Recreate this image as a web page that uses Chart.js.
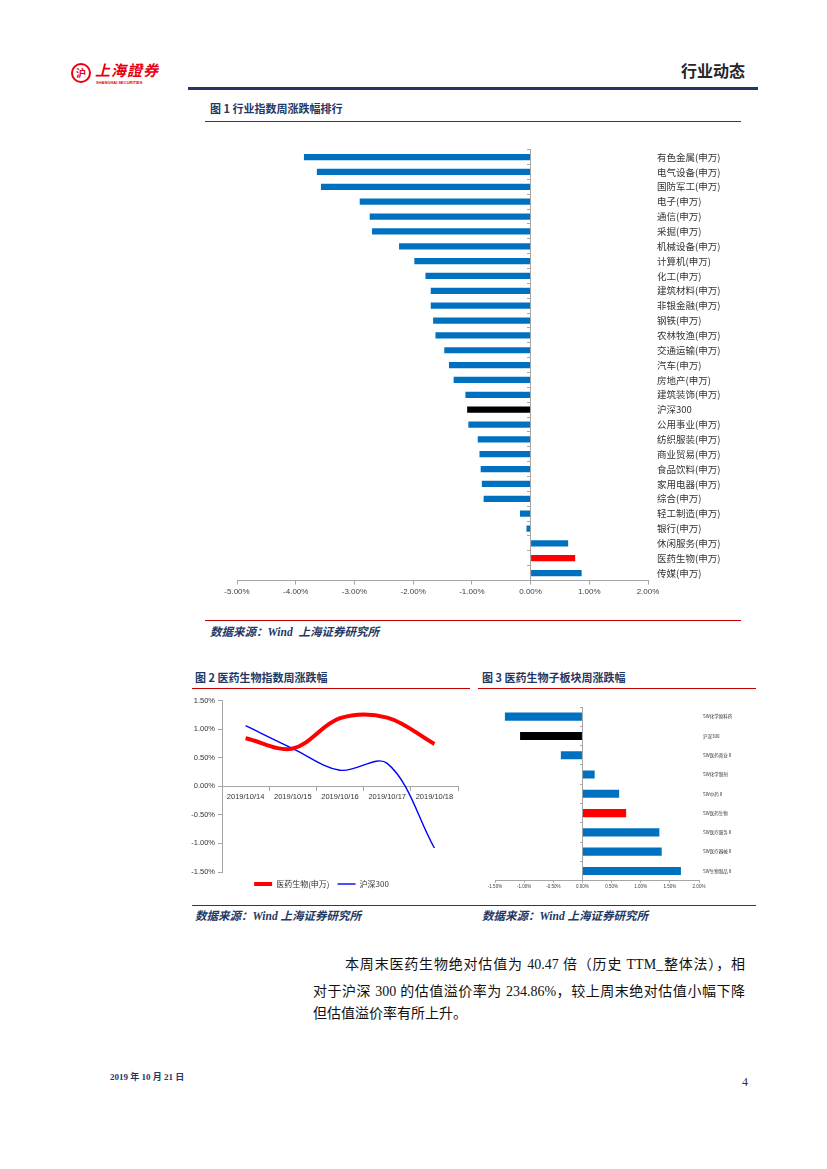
<!DOCTYPE html>
<html><head><meta charset="utf-8">
<script src="https://cdn.jsdelivr.net/npm/chart.js@4.4.1/dist/chart.umd.min.js"></script>
<style>
body{margin:0;width:827px;height:1169px;background:#fff;position:relative;overflow:hidden;font-family:"Liberation Serif","Noto Sans CJK SC",serif;}
.a{position:absolute;white-space:nowrap;}
.title{font-family:"Noto Sans CJK SC",sans-serif;font-weight:700;font-size:11px;color:#1F3864;line-height:14px;}
.src{font-family:"Liberation Serif","Noto Sans CJK SC",serif;font-weight:700;font-style:italic;font-size:11.5px;color:#1F3864;line-height:14px;}
.rl{position:absolute;height:1px;background:#c00000;}
.para{font-family:"Liberation Serif","Noto Sans CJK SC",serif;font-size:14px;color:#111;line-height:18px;}
canvas{position:absolute;}
</style></head>
<body>
<!-- header -->
<div class="a" style="left:71px;top:63px;width:20px;height:20px;border-radius:50%;border:2px solid #e60012;box-sizing:border-box;color:#e60012;font:bold 10px 'Noto Sans CJK SC';text-align:center;line-height:16px;">沪</div>
<div class="a" style="left:95px;top:61px;font:italic bold 15px 'Noto Sans CJK SC';color:#e60012;line-height:18px;letter-spacing:1px;">上海證券</div>
<div class="a" style="left:96px;top:80px;font:bold 4px 'Liberation Sans';color:#e60012;line-height:5px;">SHANGHAI SECURITIES</div>
<div class="a" style="left:681px;top:60px;font:bold 16px 'Noto Sans CJK SC';color:#262626;line-height:20px;">行业动态</div>
<div class="a" style="left:188px;top:87px;width:570px;height:3px;background:#1F3864;"></div>

<div class="a title" style="left:210px;top:101px;">图 1 行业指数周涨跌幅排行</div>
<div class="rl" style="left:205px;top:121px;width:536px;"></div>
<canvas id="c1" width="545" height="475" style="left:200px;top:135px;"></canvas>
<div class="rl" style="left:205px;top:620px;width:536px;"></div>
<div class="a src" style="left:210px;top:625px;">数据来源：Wind&nbsp; 上海证券研究所</div>

<div class="a title" style="left:195px;top:670px;">图 2 医药生物指数周涨跌幅</div>
<div class="a title" style="left:482px;top:670px;">图 3 医药生物子板块周涨跌幅</div>
<div class="rl" style="left:192px;top:688px;width:278px;"></div>
<div class="rl" style="left:478px;top:688px;width:278px;"></div>
<canvas id="c2" width="285" height="205" style="left:185px;top:693px;"></canvas>
<canvas id="c3" width="285" height="200" style="left:470px;top:700px;"></canvas>
<div class="rl" style="left:192px;top:905px;width:564px;"></div>
<div class="a src" style="left:195px;top:909px;">数据来源：Wind 上海证券研究所</div>
<div class="a src" style="left:482px;top:909px;">数据来源：Wind 上海证券研究所</div>

<div class="a para" style="left:345px;top:956px;width:400px;text-align:justify;text-align-last:justify;">本周末医药生物绝对估值为 40.47 倍（历史 TTM_整体法），相</div>
<div class="a para" style="left:313px;top:983px;width:432px;text-align:justify;text-align-last:justify;">对于沪深 300 的估值溢价率为 234.86%，较上周末绝对估值小幅下降</div>
<div class="a para" style="left:313px;top:1005px;">但估值溢价率有所上升。</div>

<div class="a" style="left:110px;top:1071px;font:bold 9px 'Liberation Serif','Noto Sans CJK SC';color:#1F3864;line-height:12px;">2019 年 10 月 21 日</div>
<div class="a" style="left:742px;top:1075px;font:12px 'Liberation Serif';color:#333;line-height:14px;">4</div>

<script>
// ---------- data ----------
const industries = ['有色金属(申万)','电气设备(申万)','国防军工(申万)','电子(申万)','通信(申万)','采掘(申万)','机械设备(申万)','计算机(申万)','化工(申万)','建筑材料(申万)','非银金融(申万)','钢铁(申万)','农林牧渔(申万)','交通运输(申万)','汽车(申万)','房地产(申万)','建筑装饰(申万)','沪深300','公用事业(申万)','纺织服装(申万)','商业贸易(申万)','食品饮料(申万)','家用电器(申万)','综合(申万)','轻工制造(申万)','银行(申万)','休闲服务(申万)','医药生物(申万)','传媒(申万)'];
const industryChange = [-3.86,-3.64,-3.57,-2.91,-2.74,-2.70,-2.24,-1.98,-1.79,-1.70,-1.70,-1.66,-1.62,-1.47,-1.39,-1.31,-1.11,-1.08,-1.06,-0.90,-0.87,-0.85,-0.83,-0.80,-0.18,-0.07,0.64,0.76,0.87];
const industryTicks = [-5,-4,-3,-2,-1,0,1,2];

const dates = ['2019/10/14','2019/10/15','2019/10/16','2019/10/17','2019/10/18'];
const pharmaIndex = [0.84,0.66,1.19,1.20,0.74];
const hs300Index = [1.06,0.66,0.28,0.40,-1.08];

const subSectors = ['SW化学原料药','沪深300','SW医药商业Ⅱ','SW化学制剂','SW中药Ⅱ','SW医药生物','SW医疗服务Ⅱ','SW医疗器械Ⅱ','SW生物制品Ⅱ'];
const subSectorChange = [-1.33,-1.07,-0.37,0.21,0.63,0.75,1.32,1.36,1.69];

// ---------- styles ----------
const BLUE = '#0070C0';
function barColor(name){
  if (name === '沪深300') return '#000000';
  if (name === '医药生物(申万)' || name === 'SW医药生物') return '#FF0000';
  return BLUE;
}
const pct = v => Number(v).toFixed(2) + '%';
const AX = '#a6a6a6';

// ---------- chart 1 ----------
new Chart(document.getElementById('c1'), {
  type: 'bar',
  data: { labels: industries, datasets: [{ data: industryChange, backgroundColor: industries.map(barColor), barPercentage: 0.42, categoryPercentage: 1 }] },
  options: {
    indexAxis: 'y', responsive: false, animation: false,
    layout: { padding: { left: 37, top: 2.5, right: 0, bottom: 0 } },
    plugins: { legend: { display: false }, tooltip: { enabled: false } },
    scales: {
      x: { type: 'linear', min: -5, max: 2, position: 'bottom',
           afterBuildTicks: s => { s.ticks = industryTicks.map(v => ({ value: v })); },
           ticks: { callback: pct, font: { size: 8, family: 'Liberation Sans' }, color: '#404040', padding: 2, maxRotation: 0, autoSkip: false },
           grid: { drawOnChartArea: false, tickLength: 4, color: AX }, border: { color: AX },
           afterFit: s => { s.height = 29.5; } },
      y: { type: 'category', position: { x: 0 }, offset: true,
           ticks: { display: false },
           grid: { drawOnChartArea: false, tickLength: 3, color: AX, offset: true }, border: { color: AX } },
      y2: { type: 'category', labels: industries, position: 'right', offset: true,
            grid: { display: false, drawTicks: false }, border: { display: false },
            ticks: { padding: 9, font: { size: 9.5, family: 'Noto Sans CJK SC' }, color: '#333', autoSkip: false },
            afterFit: s => { s.width = 97; } }
    }
  }
});

// ---------- chart 2 ----------
new Chart(document.getElementById('c2'), {
  type: 'line',
  data: { labels: dates, datasets: [
    { label: '医药生物(申万)', data: pharmaIndex, borderColor: '#FF0000', backgroundColor: '#FF0000', borderWidth: 4, tension: 0.35, pointRadius: 0 },
    { label: '沪深300', data: hs300Index, borderColor: '#0000FF', backgroundColor: '#0000FF', borderWidth: 1.4, tension: 0.35, pointRadius: 0 }
  ] },
  options: {
    responsive: false, animation: false,
    layout: { padding: { top: 6, right: 12, left: 0, bottom: 0 } },
    plugins: {
      tooltip: { enabled: false },
      legend: { position: 'bottom', labels: { usePointStyle: true, pointStyle: 'line', pointStyleWidth: 18, boxHeight: 6, padding: 8, font: { size: 8, family: 'Noto Sans CJK SC' }, color: '#333' } }
    },
    scales: {
      x: { type: 'category', position: { y: 0 }, offset: true,
           grid: { drawOnChartArea: false, offset: true, tickLength: 4, color: AX }, border: { color: AX },
           ticks: { font: { size: 7.5, family: 'Liberation Sans' }, color: '#333', maxRotation: 0, autoSkip: false, padding: 2 } },
      y: { min: -1.5, max: 1.5,
           ticks: { stepSize: 0.5, callback: pct, font: { size: 7.5, family: 'Liberation Sans' }, color: '#333', padding: 3 },
           grid: { drawOnChartArea: false, tickLength: 4, color: AX }, border: { color: AX },
           afterFit: s => { s.width = 37; } }
    }
  }
});

// ---------- chart 3 ----------
new Chart(document.getElementById('c3'), {
  type: 'bar',
  data: { labels: subSectors, datasets: [{ data: subSectorChange, backgroundColor: subSectors.map(barColor), barPercentage: 0.42, categoryPercentage: 1 }] },
  options: {
    indexAxis: 'y', responsive: false, animation: false,
    layout: { padding: { left: 25, top: 7, right: 0, bottom: 0 } },
    plugins: { legend: { display: false }, tooltip: { enabled: false } },
    scales: {
      x: { type: 'linear', min: -1.5, max: 2,
           ticks: { stepSize: 0.5, callback: pct, font: { size: 4.5, family: 'Liberation Sans' }, color: '#404040', padding: 1, maxRotation: 0, autoSkip: false },
           grid: { drawOnChartArea: false, tickLength: 2, color: AX }, border: { color: AX },
           afterFit: s => { s.height = 19.4; } },
      y: { type: 'category', position: { x: 0 }, offset: true,
           ticks: { display: false },
           grid: { drawOnChartArea: false, tickLength: 2, color: AX, offset: true }, border: { color: AX } },
      y2: { type: 'category', labels: subSectors, position: 'right', offset: true,
            grid: { display: false, drawTicks: false }, border: { display: false },
            ticks: { padding: 4, font: { size: 4.5, family: 'Noto Sans CJK SC' }, color: '#333', autoSkip: false },
            afterFit: s => { s.width = 56; } }
    }
  }
});
</script>
</body></html>
